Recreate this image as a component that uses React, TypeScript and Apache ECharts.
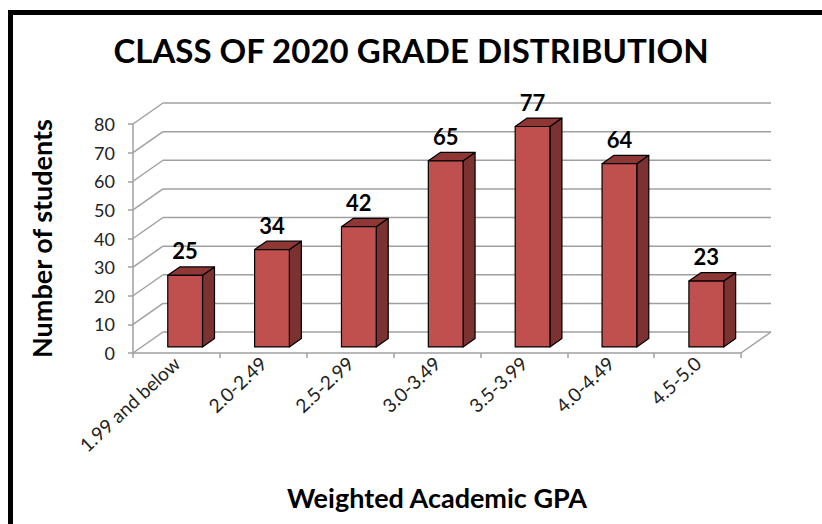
import React, { useEffect, useRef } from "react";
import * as echarts from "echarts";

const categories = ["1.99 and below", "2.0-2.49", "2.5-2.99", "3.0-3.49", "3.5-3.99", "4.0-4.49", "4.5-5.0"];
const students = [25, 34, 42, 65, 77, 64, 23];
const yTicks = [0, 10, 20, 30, 40, 50, 60, 70, 80];

const DEPTH_X = 30;
const DEPTH_Y = -21;
const T0 = 0.29;
const T1 = 0.69;
const BAR_FRAC = 0.4;
const FONT = "Lato, 'Open Sans', sans-serif";

export default function App() {
  const ref = useRef<HTMLDivElement>(null);
  useEffect(() => {
    if (!ref.current) return;
    const chart = echarts.init(ref.current, null, { renderer: "svg" });
    const option: any = {
      animation: false,
      backgroundColor: "#ffffff",
      title: {
        text: "CLASS OF 2020 GRADE DISTRIBUTION",
        left: "center",
        top: 28,
        textStyle: { fontFamily: FONT, fontWeight: "bold", fontSize: 33, color: "#000" },
      },
      grid: { left: 133, right: 81, top: 124, bottom: 171, containLabel: false },
      xAxis: {
        type: "category",
        data: categories,
        name: "Weighted Academic GPA",
        nameLocation: "middle",
        nameGap: 131,
        nameTextStyle: { fontFamily: FONT, fontWeight: "bold", fontSize: 27, color: "#000" },
        axisLine: { show: true, lineStyle: { color: "#a0a0a0", width: 1.5 } },
        axisTick: { show: true, length: 5, interval: 0, lineStyle: { color: "#a0a0a0", width: 1.5 } },
        axisLabel: { interval: 0, rotate: 43, margin: 7, fontFamily: FONT, fontSize: 19, color: "#222" },
        splitLine: { show: false },
      },
      yAxis: {
        type: "value",
        min: 0,
        max: 80,
        interval: 10,
        name: "Number of students",
        nameLocation: "middle",
        nameRotate: 90,
        nameGap: 78,
        nameTextStyle: { fontFamily: FONT, fontWeight: "bold", fontSize: 27, color: "#000" },
        axisLine: { show: true, lineStyle: { color: "#a0a0a0", width: 1.5 } },
        axisTick: { show: true, length: 5, inside: false, lineStyle: { color: "#a0a0a0", width: 1.5 } },
        axisLabel: { margin: 18, fontFamily: FONT, fontSize: 18, color: "#222" },
        splitLine: { show: false },
      },
      graphic: [
        { type: "rect", shape: { x: 8, y: 10, width: 814, height: 5 }, style: { fill: "#000" }, silent: true },
        { type: "rect", shape: { x: 8, y: 10, width: 5, height: 514 }, style: { fill: "#000" }, silent: true },
      ],
      series: [
        {
          type: "custom",
          name: "walls",
          z: 1,
          silent: true,
          data: yTicks.map((v) => [0, v]),
          renderItem: (params: any, api: any) => {
            const cs = params.coordSys;
            const v = api.value(1);
            const y = api.coord([0, v])[1];
            const left = cs.x;
            const right = cs.x + cs.width;
            const ls = { stroke: "#a0a0a0", lineWidth: 1.5 };
            const children: any[] = [
              { type: "line", shape: { x1: left, y1: y, x2: left + DEPTH_X, y2: y + DEPTH_Y }, style: ls },
              { type: "line", shape: { x1: left + DEPTH_X, y1: y + DEPTH_Y, x2: right + DEPTH_X, y2: y + DEPTH_Y }, style: ls },
            ];
            if (v === 0) {
              children.push({ type: "line", shape: { x1: right, y1: y, x2: right + DEPTH_X, y2: y + DEPTH_Y }, style: ls });
            }
            return { type: "group", children };
          },
        },
        {
          type: "custom",
          name: "Number of students",
          z: 5,
          data: students.map((v, i) => [i, v]),
          renderItem: (params: any, api: any) => {
            const idx = api.value(0);
            const val = api.value(1);
            const base = api.coord([idx, 0]);
            const top = api.coord([idx, val]);
            const band = api.size([1, 0])[0];
            const w = band * BAR_FRAC;
            const ox = DEPTH_X * T0;
            const oy = DEPTH_Y * T0;
            const dx = DEPTH_X * (T1 - T0);
            const dy = DEPTH_Y * (T1 - T0);
            const xl = base[0] - w / 2 + ox;
            const xr = base[0] + w / 2 + ox;
            const yb = base[1] + oy;
            const yt = top[1] + oy;
            const edge = { stroke: "#000", lineWidth: 1.2, lineJoin: "round" };
            return {
              type: "group",
              children: [
                {
                  type: "polygon",
                  shape: { points: [[xr, yb], [xr + dx, yb + dy], [xr + dx, yt + dy], [xr, yt]] },
                  style: { fill: "#7b3230", ...edge },
                },
                {
                  type: "polygon",
                  shape: { points: [[xl, yt], [xr, yt], [xr + dx, yt + dy], [xl + dx, yt + dy]] },
                  style: { fill: "#8f3735", ...edge },
                },
                {
                  type: "rect",
                  shape: { x: xl, y: yt, width: xr - xl, height: yb - yt },
                  style: { fill: "#c0504d", ...edge },
                },
                {
                  type: "text",
                  x: (xl + xr) / 2,
                  y: yt + dy - 5,
                  style: {
                    text: String(val),
                    fontFamily: FONT,
                    fontWeight: "bold",
                    fontSize: 22,
                    fill: "#000",
                    align: "center",
                    verticalAlign: "bottom",
                  },
                },
              ],
            };
          },
        },
      ],
    };
    chart.setOption(option);
    return () => chart.dispose();
  }, []);
  return (
    <div
      ref={ref}
      style={{ position: "absolute", left: 0, top: 0, width: 822, height: 524 }}
    />
  );
}
